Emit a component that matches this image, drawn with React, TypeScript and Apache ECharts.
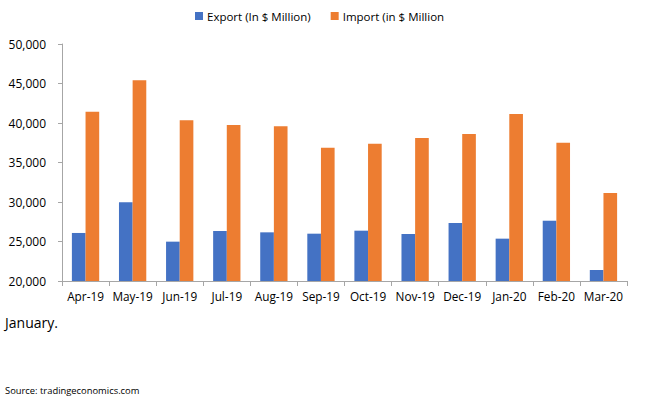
import React, { useEffect, useRef } from "react";
import * as echarts from "echarts";

const categories = ["Apr-19", "May-19", "Jun-19", "Jul-19", "Aug-19", "Sep-19", "Oct-19", "Nov-19", "Dec-19", "Jan-20", "Feb-20", "Mar-20"];
const exportValues = [26080, 29960, 24980, 26330, 26160, 25990, 26370, 25950, 27340, 25360, 27630, 21390];
const importValues = [41430, 45400, 40340, 39750, 39580, 36880, 37380, 38100, 38610, 41140, 37510, 31140];
const seriesNames = ["Export (In $ Million)", "Import (in $ Million"];
const noteText = "January.";
const sourceText = "Source: tradingeconomics.com";

const FONT = "'Open Sans', 'Noto Sans', sans-serif";

export default function App() {
  const ref = useRef<HTMLDivElement>(null);
  useEffect(() => {
    if (!ref.current) return;
    const chart = echarts.init(ref.current, null, { renderer: "svg" });
    chart.setOption({
      animation: false,
      backgroundColor: "#ffffff",
      textStyle: { fontFamily: FONT },
      legend: {
        top: 5,
        left: 190,
        itemWidth: 8,
        itemHeight: 8,
        itemGap: 20,
        icon: "rect",
        textStyle: { fontSize: 11.5, color: "#000", fontFamily: FONT, padding: [0, 0, 0, -1] },
        data: seriesNames,
      },
      grid: { left: 62, right: 33, top: 44, bottom: 122, containLabel: false },
      xAxis: {
        type: "category",
        data: categories,
        axisLine: { lineStyle: { color: "#A6A6A6", width: 1 } },
        axisTick: { show: true, alignWithLabel: false, length: 5, lineStyle: { color: "#A6A6A6" } },
        axisLabel: { color: "#000", fontSize: 11.8, margin: 9, interval: 0, fontFamily: FONT },
      },
      yAxis: {
        type: "value",
        min: 20000,
        max: 50000,
        interval: 5000,
        splitLine: { show: false },
        axisLine: { show: true, lineStyle: { color: "#A6A6A6", width: 1 } },
        axisTick: { show: true, length: 4, lineStyle: { color: "#A6A6A6" } },
        axisLabel: {
          color: "#000",
          fontSize: 12,
          margin: 16,
          fontFamily: FONT,
          formatter: (v: number) => v.toLocaleString("en-US"),
        },
      },
      series: [
        {
          name: seriesNames[0],
          type: "bar",
          data: exportValues,
          itemStyle: { color: "#4472C4" },
          barGap: "0%",
          barCategoryGap: "42%",
        },
        {
          name: seriesNames[1],
          type: "bar",
          data: importValues,
          itemStyle: { color: "#ED7D31" },
          barGap: "0%",
          barCategoryGap: "42%",
        },
      ],
      graphic: [
        {
          type: "text",
          left: 5,
          top: 315,
          style: { text: noteText, fontSize: 14, fill: "#000", fontFamily: FONT },
        },
        {
          type: "text",
          left: 5,
          top: 386,
          style: { text: sourceText, fontSize: 9.4, fill: "#000", fontFamily: FONT },
        },
      ],
    });
    return () => chart.dispose();
  }, []);
  return (
    <div
      ref={ref}
      style={{ position: "fixed", left: 0, top: 0, width: 660, height: 403 }}
    />
  );
}
